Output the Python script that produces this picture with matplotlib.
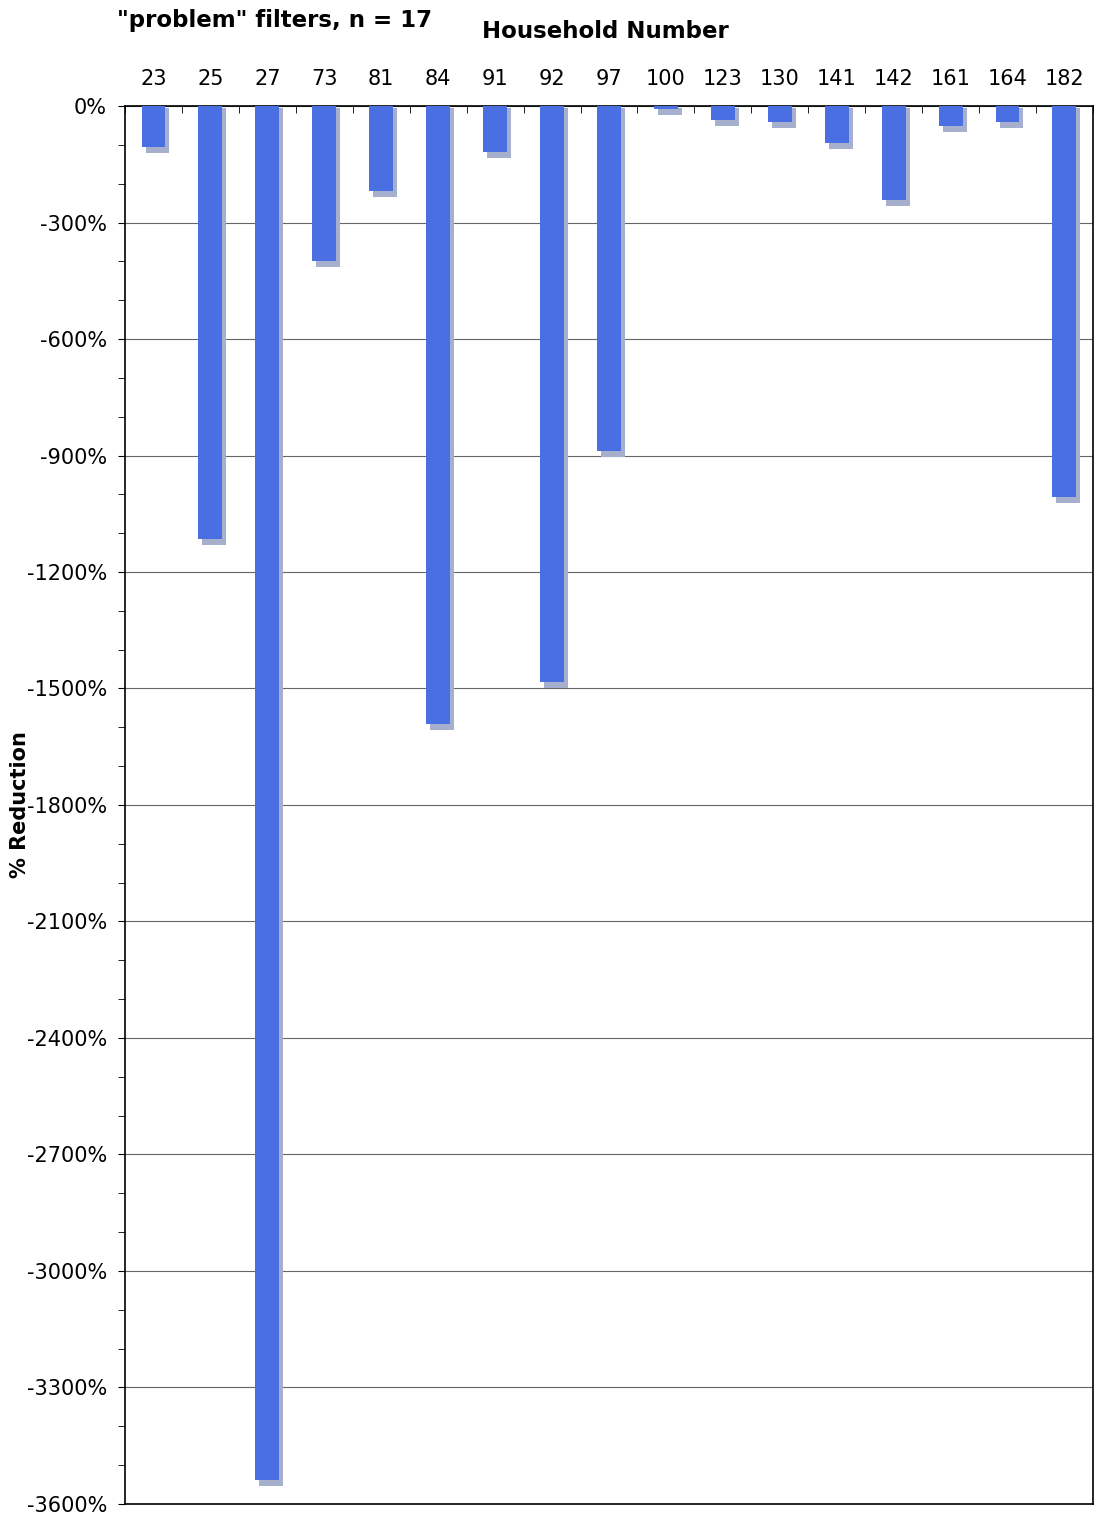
import numpy as np
import matplotlib
matplotlib.use("Agg")
import matplotlib.pyplot as plt
from matplotlib.ticker import MultipleLocator, FuncFormatter

# household ids and % reduction
households = ["23", "25", "27", "73", "81", "84", "91", "92", "97",
              "100", "123", "130", "141", "142", "161", "164", "182"]
reduction = [-105, -1115, -3538, -398, -219, -1592, -118, -1483, -888,
             -8, -36, -40, -94, -242, -51, -40, -1006]

plt.rcParams['font.family'] = ['DejaVu Sans']

fig = plt.figure(figsize=(10.94, 15.19), dpi=100)
ax = fig.add_axes([0.1143, 0.0099, 0.8847, 0.9203])

x = np.arange(len(households))
# drop shadow first, then the bars
ax.bar(x + 0.07, np.array(reduction) - 10, width=0.42, bottom=-6,
       color='#a6b0cc', zorder=2, linewidth=0)
ax.bar(x, reduction, width=0.42, color='#4a6fe3', zorder=3, linewidth=0)

ax.set_xlim(-0.5, len(households) - 0.5)
ax.set_ylim(-3600, 0)

ax.yaxis.set_major_locator(MultipleLocator(300))
ax.yaxis.set_minor_locator(MultipleLocator(100))
ax.yaxis.set_major_formatter(FuncFormatter(lambda v, p: f"{int(round(v))}%"))
ax.grid(axis='y', which='major', color='#666666', linewidth=0.8, zorder=1)
ax.tick_params(axis='y', which='both', direction='out', length=5, labelsize=15,
               color='black', pad=8)

# category labels on top, ticks at category boundaries
ax.xaxis.tick_top()
ax.set_xticks(x)
ax.set_xticklabels(households, fontsize=15)
ax.set_xticks(np.arange(len(households) + 1) - 0.5, minor=True)
ax.tick_params(axis='x', which='major', length=0, pad=12)
ax.tick_params(axis='x', which='minor', direction='in', length=5, color='black')

for s in ax.spines.values():
    s.set_color('black')
    s.set_linewidth(1.2)

fig.text(275 / 1094, 1 - 20 / 1519, '"problem" filters, n = 17',
         fontsize=16.5, fontweight='bold', ha='center', va='center')
fig.text(605 / 1094, 1 - 32 / 1519, 'Household Number',
         fontsize=16.5, fontweight='bold', ha='center', va='center')
fig.text(20 / 1094, 1 - 805 / 1519, '% Reduction', rotation=90,
         fontsize=15, fontweight='bold', ha='center', va='center')

fig.savefig("out.png", dpi=100)
